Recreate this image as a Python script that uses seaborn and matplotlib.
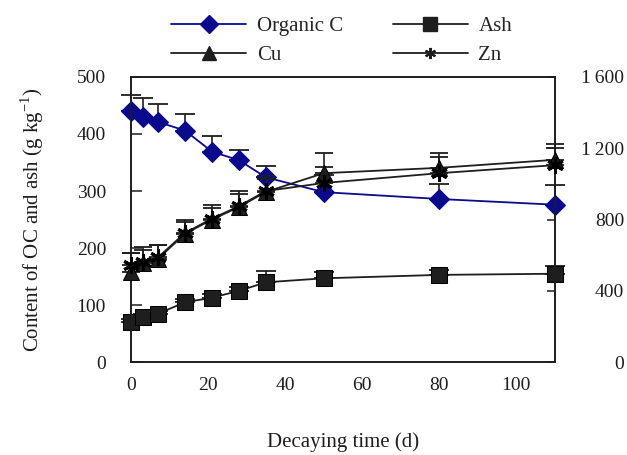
import numpy as np
import pandas as pd
import matplotlib
matplotlib.use("Agg")
import matplotlib.pyplot as plt
import seaborn as sns
from matplotlib.lines import Line2D
from matplotlib.ticker import FuncFormatter

# ---- data ----
days = [0, 3, 7, 14, 21, 28, 35, 50, 80, 110]
organic_c = [441, 430, 421, 406, 369, 354, 324, 298, 286, 276]
organic_c_err = [27, 33, 32, 29, 27, 18, 19, 30, 27, 34]
ash = [71, 79, 85, 105, 113, 125, 140, 147, 153, 155]
ash_err = [5, 5, 5, 6, 6, 6, 20, 11, 8, 13]
cu = [505, 555, 580, 720, 800, 870, 955, 1060, 1090, 1135]
cu_err = [110, 90, 77, 77, 81, 90, 90, 111, 81, 89]
zn = [545, 560, 588, 725, 805, 875, 960, 1005, 1060, 1105]
zn_err = [70, 70, 70, 60, 60, 70, 70, 92, 89, 95]

left_ticks = [0, 100, 200, 300, 400, 500]
right_ticks = [0, 400, 800, 1200, 1600]
x_ticks = [0, 20, 40, 60, 80, 100]

sns.set_style("white")
plt.rcParams["font.family"] = ["Liberation Serif", "DejaVu Serif"]
plt.rcParams["mathtext.fontset"] = "custom"
plt.rcParams["mathtext.rm"] = "Liberation Serif"

fig = plt.figure(figsize=(6.27, 4.55), dpi=100)
ax = fig.add_axes([0.209, 0.204, 0.676, 0.627])
ax2 = ax.twinx()

blue = "#0a0a8c"
ink = "#1e1e1e"
left_df = pd.DataFrame({"day": days * 2,
                        "value": organic_c + ash,
                        "series": ["Organic C"] * len(days) + ["Ash"] * len(days)})
right_df = pd.DataFrame({"day": days * 2,
                         "value": cu + zn,
                         "series": ["Cu"] * len(days) + ["Zn"] * len(days)})

# error bars (upper only)
def ebar(a, y, e, cs):
    a.errorbar(days, y, yerr=[np.zeros(len(e)), e], fmt="none", ecolor=ink,
               elinewidth=1.2, capsize=cs, capthick=1.3, clip_on=False, zorder=2)

ebar(ax, organic_c, organic_c_err, 7)
ebar(ax, ash, ash_err, 7)
ebar(ax2, cu, cu_err, 6.5)
ebar(ax2, zn, zn_err, 6.5)

sns.lineplot(data=left_df[left_df.series == "Organic C"], x="day", y="value", ax=ax,
             color=blue, marker="D", markersize=10, markeredgecolor=blue,
             linewidth=1.3, legend=False, clip_on=False, zorder=4)
sns.lineplot(data=left_df[left_df.series == "Ash"], x="day", y="value", ax=ax,
             color=ink, marker="s", markersize=11, markeredgecolor="black",
             linewidth=1.3, legend=False, clip_on=False, zorder=4)
sns.lineplot(data=right_df[right_df.series == "Cu"], x="day", y="value", ax=ax2,
             color=ink, marker="^", markersize=11, markeredgecolor="black",
             linewidth=1.3, legend=False, clip_on=False, zorder=4)
sns.lineplot(data=right_df[right_df.series == "Zn"], x="day", y="value", ax=ax2,
             color=ink, marker=(6, 2, 0), markersize=12, markeredgewidth=2.2,
             markeredgecolor="black", linewidth=1.3, legend=False, clip_on=False, zorder=4)

ax.set_xlim(0, 110)
ax.set_ylim(0, 500)
ax2.set_ylim(0, 1600)
ax.set_xticks(x_ticks)
ax.set_yticks(left_ticks)
ax2.set_yticks(right_ticks)
ax2.yaxis.set_major_formatter(FuncFormatter(
    lambda v, p: f"{int(v):,}".replace(",", "\u2009")))

for a in (ax, ax2):
    for s in a.spines.values():
        s.set_color(ink)
        s.set_linewidth(1.2)
ax.tick_params(axis="both", direction="in", length=8, width=1.1, labelsize=14,
               colors=ink)
ax.tick_params(axis="x", pad=11)
ax.tick_params(axis="y", pad=18)
ax2.tick_params(axis="y", direction="in", length=6, width=1.1, labelsize=14,
                pad=50, colors=ink)
for t in ax2.yaxis.get_major_ticks():
    t.label2.set_horizontalalignment("right")

ax.set_xlabel("Decaying time (d)", fontsize=15, labelpad=27, color=ink)
ax.set_ylabel("Content of OC and ash (g kg$^{-1}$)", fontsize=15, labelpad=22,
              color=ink)
ax2.set_ylabel("")

handles = [
    Line2D([], [], color=blue, marker="D", markersize=9, linewidth=1.3),
    Line2D([], [], color=ink, marker="^", markersize=10, linewidth=1.3),
    Line2D([], [], color=ink, marker="s", markersize=10, linewidth=1.3),
    Line2D([], [], color=ink, marker=(6, 2, 0), markersize=8,
           markeredgewidth=1.5, linewidth=1.3),
]
labels = ["Organic C", "Cu", "Ash", "Zn"]
fig.legend(handles, labels, ncol=2, loc="upper center", bbox_to_anchor=(0.545, 1.005),
           frameon=False, fontsize=15, handlelength=3.6, columnspacing=2.4,
           labelspacing=0.45, handletextpad=0.5)

fig.savefig("out.png", dpi=100)
